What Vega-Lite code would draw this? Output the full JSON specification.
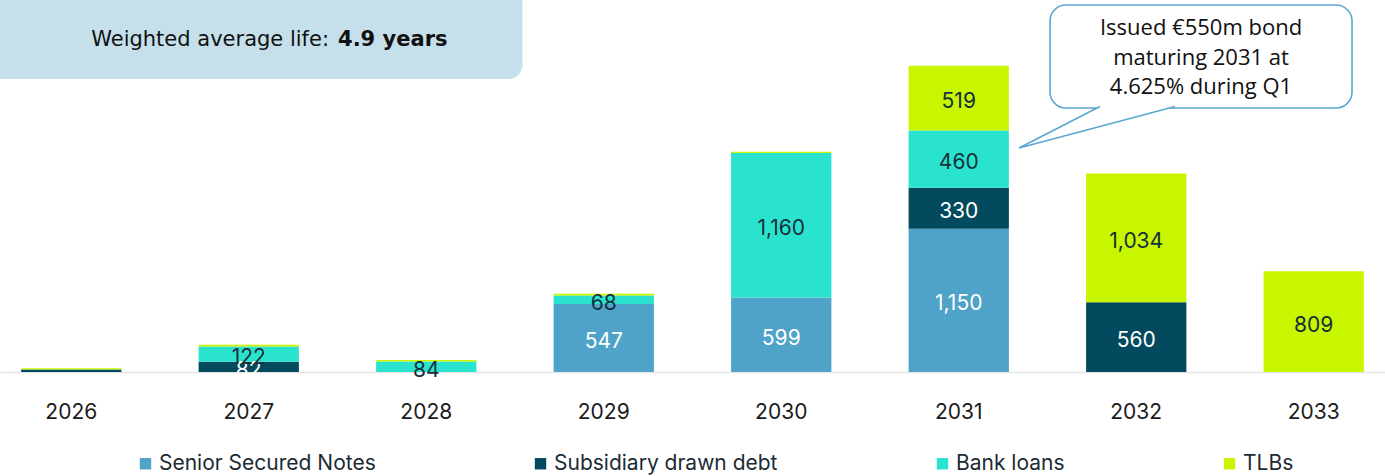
{
  "$schema": "https://vega.github.io/schema/vega-lite/v6.json",
  "width": 1385,
  "height": 372,
  "autosize": {"type": "none"},
  "padding": {"left": 0, "top": 0, "right": 0, "bottom": 104},
  "background": "white",
  "config": {"view": {"stroke": null}, "font": "Inter"},
  "datasets": {
    "debt": [
      {"year": "2026", "series": "Subsidiary drawn debt", "value": 20},
      {"year": "2026", "series": "TLBs", "value": 10},
      {"year": "2027", "series": "Subsidiary drawn debt", "value": 82},
      {"year": "2027", "series": "Bank loans", "value": 122},
      {"year": "2027", "series": "TLBs", "value": 15},
      {"year": "2028", "series": "Bank loans", "value": 84},
      {"year": "2028", "series": "TLBs", "value": 12},
      {"year": "2029", "series": "Senior Secured Notes", "value": 547},
      {"year": "2029", "series": "Bank loans", "value": 68},
      {"year": "2029", "series": "TLBs", "value": 13},
      {"year": "2030", "series": "Senior Secured Notes", "value": 599},
      {"year": "2030", "series": "Bank loans", "value": 1160},
      {"year": "2030", "series": "TLBs", "value": 10},
      {"year": "2031", "series": "Senior Secured Notes", "value": 1150},
      {"year": "2031", "series": "Subsidiary drawn debt", "value": 330},
      {"year": "2031", "series": "Bank loans", "value": 460},
      {"year": "2031", "series": "TLBs", "value": 519},
      {"year": "2032", "series": "Subsidiary drawn debt", "value": 560},
      {"year": "2032", "series": "TLBs", "value": 1034},
      {"year": "2033", "series": "TLBs", "value": 809}
    ]
  },
  "layer": [
    {
      "data": {"values": [{"note": "summary box"}]},
      "mark": {"type": "point", "shape": "M -2.545 -0.495 H 2.545 A 0.14 0.14 0 0 1 2.685 -0.355 V 0.355 A 0.14 0.14 0 0 1 2.545 0.495 H -2.545 A 0.14 0.14 0 0 1 -2.685 0.355 V -0.355 A 0.14 0.14 0 0 1 -2.545 -0.495 Z", "size": 40000, "filled": true, "fill": "#C5E0EA", "strokeWidth": 0, "opacity": 1},
      "encoding": {
        "x": {"datum": "2027", "type": "ordinal", "bandPosition": 0.552},
        "y": {"datum": 2751, "type": "quantitative", "axis": null}
      }
    },
    {
      "data": {"name": "debt"},
      "transform": [
        {"calculate": "indexof(['Senior Secured Notes','Subsidiary drawn debt','Bank loans','TLBs'], datum.series)", "as": "rank"},
        {"stack": "value", "groupby": ["year"], "sort": [{"field": "rank", "order": "ascending"}], "as": ["v0", "v1"]}
      ],
      "mark": {"type": "bar"},
      "encoding": {
        "x": {
          "field": "year", "type": "ordinal",
          "scale": {"paddingInner": 0.435, "paddingOuter": 0.119},
          "axis": {"title": null, "domainColor": "#E6E6E6", "domainWidth": 1.5, "ticks": false, "labelFontSize": 21, "labelColor": "#1b1b1b", "labelPadding": 29, "labelBaseline": "top", "labelFont": "Inter", "labelAngle": 0, "labelAlign": "center", "labelOffset": 0}
        },
        "y": {
          "field": "v0", "type": "quantitative",
          "scale": {"domain": [0, 2988], "nice": false},
          "axis": null
        },
        "y2": {"field": "v1"},
        "color": {
          "field": "series", "type": "nominal",
          "scale": {"domain": ["Senior Secured Notes", "Subsidiary drawn debt", "Bank loans", "TLBs"], "range": ["#4FA3C8", "#034A5E", "#29E3CF", "#C8F500"]},
          "legend": {"orient": "none", "legendX": 135, "legendY": 453, "direction": "horizontal", "title": null, "symbolType": "square", "symbolSize": 130, "symbolStrokeWidth": 0, "labelFontSize": 21, "labelFont": "Inter", "labelColor": "#1b2b33", "labelOffset": 3, "labelLimit": 0, "columnPadding": 154}
        }
      }
    },
    {
      "data": {"name": "debt"},
      "transform": [
        {"calculate": "indexof(['Senior Secured Notes','Subsidiary drawn debt','Bank loans','TLBs'], datum.series)", "as": "rank"},
        {"stack": "value", "groupby": ["year"], "sort": [{"field": "rank", "order": "ascending"}], "as": ["v0", "v1"]},
        {"calculate": "(datum.v0 + datum.v1) / 2", "as": "mid"},
        {"filter": "datum.value >= 50"}
      ],
      "mark": {"type": "text", "fontSize": 21, "font": "Inter", "baseline": "middle", "dy": 4},
      "encoding": {
        "x": {"field": "year", "type": "ordinal"},
        "y": {"field": "mid", "type": "quantitative", "axis": null},
        "text": {"field": "value", "type": "quantitative", "format": ","},
        "color": {"condition": {"test": "datum.series === 'Senior Secured Notes' || datum.series === 'Subsidiary drawn debt'", "value": "white"}, "value": "#15303A"}
      }
    },
    {
      "data": {"values": [{"t": "Weighted average life:"}]},
      "mark": {"type": "text", "align": "right", "baseline": "middle", "fontSize": 21, "font": "DejaVu Sans", "color": "#111111"},
      "encoding": {
        "x": {"datum": "2027", "type": "ordinal", "bandPosition": 1.3},
        "y": {"datum": 2667, "type": "quantitative", "axis": null},
        "text": {"field": "t"}
      }
    },
    {
      "data": {"values": [{"t": "4.9 years"}]},
      "mark": {"type": "text", "align": "left", "baseline": "middle", "fontSize": 21, "font": "DejaVu Sans", "fontWeight": "bold", "color": "#111111"},
      "encoding": {
        "x": {"datum": "2027", "type": "ordinal", "bandPosition": 1.39},
        "y": {"datum": 2667, "type": "quantitative", "axis": null},
        "text": {"field": "t"}
      }
    },
    {
      "data": {"values": [{"note": "callout box"}]},
      "mark": {"type": "point", "shape": "M -1.35 -0.515 H 1.35 A 0.16 0.16 0 0 1 1.51 -0.355 V 0.355 A 0.16 0.16 0 0 1 1.35 0.515 H -1.35 A 0.16 0.16 0 0 1 -1.51 0.355 V -0.355 A 0.16 0.16 0 0 1 -1.35 -0.515 Z", "size": 40000, "filled": true, "fill": "white", "stroke": "#5AA7CF", "strokeWidth": 1.6, "opacity": 1},
      "encoding": {
        "x": {"datum": "2032", "type": "ordinal", "bandPosition": 1.146},
        "y": {"datum": 2534, "type": "quantitative", "axis": null}
      }
    },
    {
      "data": {"values": [{"note": "callout tail"}]},
      "mark": {"type": "point", "shape": "M 0.03 -0.2075 L -0.78 0.2075 L 0.78 -0.2075", "size": 40000, "filled": true, "fill": "white", "stroke": "#5AA7CF", "strokeWidth": 1.6, "opacity": 1},
      "encoding": {
        "x": {"datum": "2031", "type": "ordinal", "bandPosition": 1.879},
        "y": {"datum": 1966, "type": "quantitative", "axis": null}
      }
    },
    {
      "data": {"values": [{"t": "Issued €550m bond\nmaturing 2031 at\n4.625% during Q1"}]},
      "mark": {"type": "text", "align": "center", "baseline": "middle", "fontSize": 22, "font": "Open Sans", "lineHeight": 29.5, "lineBreak": "\n", "color": "#111111"},
      "encoding": {
        "x": {"datum": "2032", "type": "ordinal", "bandPosition": 1.146},
        "y": {"datum": 2763, "type": "quantitative", "axis": null},
        "text": {"field": "t"}
      }
    }
  ]
}
